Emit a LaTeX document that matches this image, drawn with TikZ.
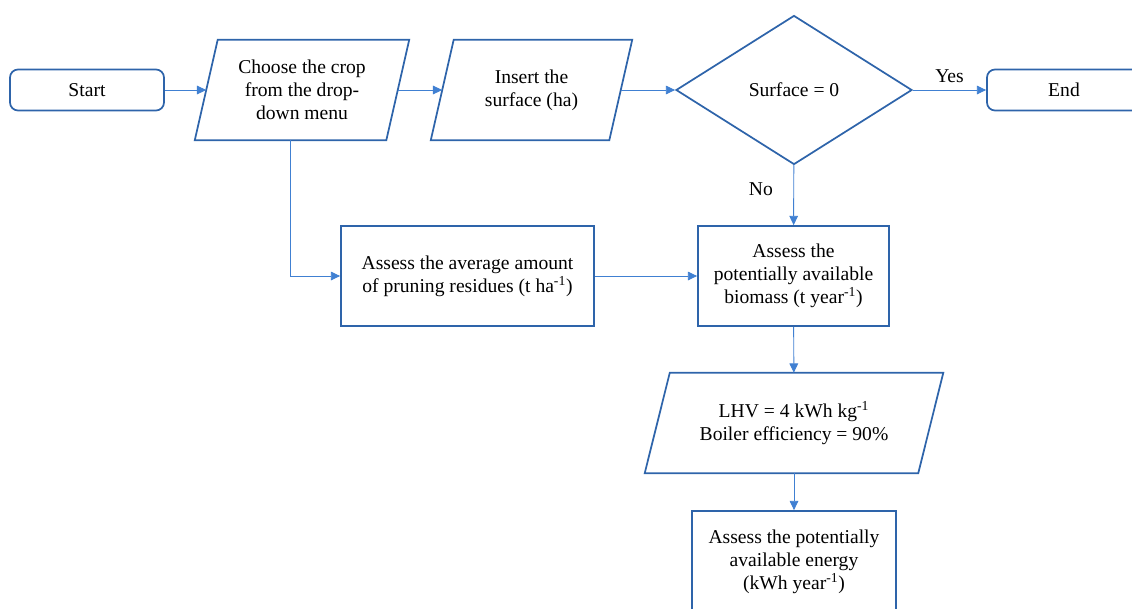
\documentclass[tikz,border=0pt]{standalone}
\usepackage{fontspec}
\setmainfont{Liberation Serif}
\usepackage{xcolor}
\usetikzlibrary{shapes.geometric,arrows.meta}

\definecolor{boxblue}{RGB}{46,100,170}
\definecolor{lineblue}{RGB}{64,128,210}

% slanted outline round a data node: #1 node name, #2 half of the slant
\newcommand{\dataoutline}[2]{%
	\draw[boxblue, line width=1.3pt, line join=miter] ([xshift=#2]#1.north west) -- ([xshift=#2]#1.north east)
		-- ([xshift=-#2]#1.south east) -- ([xshift=-#2]#1.south west) -- cycle;}

\begin{document}
\begin{tikzpicture}[x=0.75pt,y=-0.75pt,
		font=\fontsize{14.7}{17.25}\selectfont,
		startstop/.style={draw=boxblue, line width=1.3pt, rounded corners=6pt, minimum width=115.5pt, minimum height=30.75pt},
		inout/.style={minimum height=75pt, align=center, inner xsep=0pt},
		process/.style={draw=boxblue, line width=1.3pt, minimum height=75pt, align=center},
		decision/.style={draw=boxblue, line width=1.3pt, diamond, minimum width=177pt, minimum height=111.75pt, inner sep=0pt},
		flow/.style={draw=lineblue, line width=0.7pt, -{Triangle[length=7pt,width=6.5pt]}}]
				\useasboundingbox (0,0) rectangle (1132,608);
				
				% top row
				\node[startstop] (start) at (87,90) {Start};
				\node[inout, minimum width=143.25pt] (crop) at (302,90) {Choose the crop\\from the drop-\\down menu};
				\node[inout, minimum width=133.5pt] (surf) at (531.5,90) {Insert the\\surface (ha)};
				\node[decision] (test) at (794,90) {Surface = 0};
				\node[startstop] (end) at (1064,90) {End};
				\dataoutline{crop}{8.6pt}
				\dataoutline{surf}{8.6pt}
				
				% middle row
				\node[process, minimum width=189.75pt] (avg) at (467.5,276) {Assess the average amount\\of pruning residues (t ha\textsuperscript{-1})};
				\node[process, minimum width=143.25pt] (bio) at (793.5,276) {Assess the\\potentially available\\biomass (t year\textsuperscript{-1})};
				
				% bottom column
				\node[inout, minimum width=204.75pt] (lhv) at (794,423) {LHV = 4 kWh kg\textsuperscript{-1}\\Boiler efficiency = 90\%};
				\dataoutline{lhv}{9.4pt}
				\node[process, minimum width=153pt, minimum height=76.5pt] (energy) at (794,562) {Assess the potentially\\available energy\\(kWh year\textsuperscript{-1})};
				
				\draw[flow] (start) -- (crop);
				\draw[flow] (crop) -- (surf);
				\draw[flow] (surf) -- (test);
				\draw[flow] (test) -- node[above=2pt] {Yes} (end);
				\draw[flow] (test) -- node[left=12pt, pos=0.4] {No} (bio);
				\draw[flow] ([xshift=-8.6pt]crop.south) |- (avg);
				\draw[flow] (avg) -- (bio);
				\draw[flow] (bio) -- (lhv);
				\draw[flow] (lhv) -- (energy);
			\end{tikzpicture}
\end{document}
